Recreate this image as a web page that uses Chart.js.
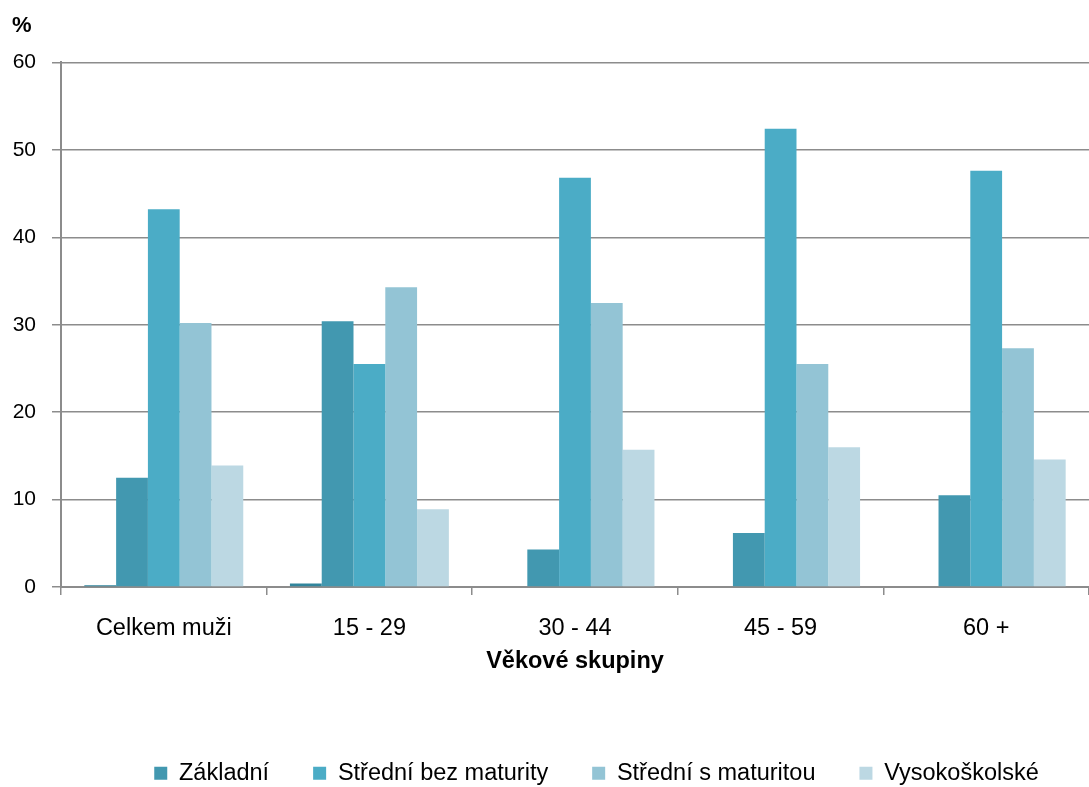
<!DOCTYPE html>
<html lang="cs">
<head>
<meta charset="utf-8">
<title>Muži podle vzdělání a věkových skupin</title>
<script src="https://cdn.jsdelivr.net/npm/chart.js@4/dist/chart.umd.min.js"></script>
<style>
  html, body { margin: 0; padding: 0; background: #fff; }
  #wrap { width: 1089px; height: 787px; }
</style>
</head>
<body>
<div id="wrap"><canvas id="chart"></canvas></div>
<script>
const categories = ["Celkem muži", "15 - 29", "30 - 44", "45 - 59", "60 +"];
const bezVzdelani = [0.2, 0.4, 0.1, 0.1, 0.0];
const zakladni = [12.5, 30.4, 4.3, 6.2, 10.5];
const stredniBezMaturity = [43.2, 25.5, 46.8, 52.4, 47.6];
const stredniSMaturitou = [30.2, 34.3, 32.5, 25.5, 27.3];
const vysokoskolske = [13.9, 8.9, 15.7, 16.0, 14.6];
const yTicks = [0, 10, 20, 30, 40, 50, 60];

const FONT = "'Liberation Sans', Arial, sans-serif";
const GRID = "#8c8c8c";

// posune legendu, Chart.js ji jinak centruje na celou šířku
const legendNudge = {
  id: "legendNudge",
  afterLayout(chart, args, opts) {
    const lg = chart.legend;
    lg.left += opts.dx;
    lg.right += opts.dx;
    lg.top += opts.dy;
    lg.bottom += opts.dy;
  },
};

function dataset(label, data, color) {
  return {
    label,
    data,
    backgroundColor: color,
    borderWidth: 0,
    barPercentage: 1.0,
    categoryPercentage: 0.773,
  };
}

new Chart(document.getElementById("chart"), {
  type: "bar",
  data: {
    labels: categories,
    datasets: [
      dataset("Bez vzdělání", bezVzdelani, "#31859c"),
      dataset("Základní", zakladni, "#4298b0"),
      dataset("Střední bez maturity", stredniBezMaturity, "#4bacc6"),
      dataset("Střední s maturitou", stredniSMaturitou, "#93c4d5"),
      dataset("Vysokoškolské", vysokoskolske, "#bcd8e3"),
    ],
  },
  plugins: [legendNudge],
  options: {
    responsive: true,
    maintainAspectRatio: false,
    animation: false,
    layout: { padding: { left: 12, right: 0, top: 0, bottom: -8 } },
    plugins: {
      legendNudge: { dx: 46, dy: 0 },
      title: {
        display: true,
        text: "%",
        align: "start",
        color: "#000",
        font: { family: FONT, size: 22, weight: "bold" },
        padding: { top: 13, bottom: 23 },
      },
      legend: {
        position: "bottom",
        labels: {
          color: "#000",
          font: { family: FONT, size: 23.5 },
          boxWidth: 13,
          boxHeight: 13,
          padding: 44,
          filter: (item) => item.text !== "Bez vzdělání",
        },
      },
      tooltip: { enabled: false },
    },
    scales: {
      x: {
        grid: { display: true, drawOnChartArea: false, color: GRID, lineWidth: 1.5, tickLength: 8, offset: true },
        border: { color: GRID, width: 2 },
        ticks: { color: "#000", font: { family: FONT, size: 23.5 }, padding: 18.9, maxRotation: 0 },
        title: {
          display: true,
          text: "Věkové skupiny",
          color: "#000",
          font: { family: FONT, size: 23.5, weight: "bold" },
          padding: { top: -14.1, bottom: 42.3 },
        },
      },
      y: {
        min: 0,
        max: 60,
        afterBuildTicks: (scale) => {
          scale.ticks = yTicks.map((v) => ({ value: v }));
        },
        afterFit: (scale) => {
          scale.width = 49;
        },
        grid: { color: GRID, lineWidth: 1.5, tickLength: 9 },
        border: { color: GRID, width: 2 },
        ticks: { color: "#000", font: { family: FONT, size: 21 }, padding: 16 },
      },
    },
  },
});
</script>
</body>
</html>
